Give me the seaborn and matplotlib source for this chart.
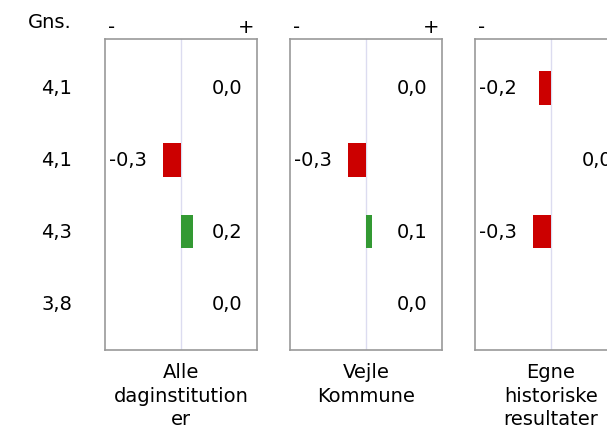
import numpy as np
import pandas as pd
import seaborn as sns
import matplotlib
matplotlib.use("Agg")
from matplotlib import pyplot as plt
from matplotlib import transforms

# data
gns = ["4,1", "4,1", "4,3", "3,8"]
rows = ["r1", "r2", "r3", "r4"]
groups = ["Alle\ndaginstitution\ner", "Vejle\nKommune", "Egne\nhistoriske\nresultater"]
alle = [0.0, -0.3, 0.2, 0.0]
vejle = [0.0, -0.3, 0.1, 0.0]
egne = [-0.2, 0.0, -0.3, np.nan]

RED = "#cc0000"
GREEN = "#339933"

sns.set_style("white")
plt.rcParams["font.family"] = ["DejaVu Sans"]
plt.rcParams["text.color"] = "black"

W, H = 607, 435
fig = plt.figure(figsize=(W / 100, H / 100), dpi=100)

panel_left = [105, 290, 475]
panel_w, top, bottom = 152, 40, 351
fs = 14


def fmt(v):
    return f"{v:.1f}".replace(".", ",")


for left, label, vals in zip(panel_left, groups, [alle, vejle, egne]):
    ax = fig.add_axes([left / W, 1 - bottom / H, panel_w / W, (bottom - top) / H])
    df = pd.DataFrame({"row": rows, "value": vals})
    df["sign"] = np.where(df["value"] < 0, "neg", "pos")
    sns.barplot(data=df.dropna(), x="value", y="row", hue="sign", order=rows,
                palette={"neg": RED, "pos": GREEN}, hue_order=["neg", "pos"],
                dodge=False, width=0.46, legend=False, ax=ax, orient="h",
                saturation=1, linewidth=0, edgecolor="none")
    ax.set_xlim(-1.267, 1.267)
    ax.set_ylim(3.64, -0.68)
    ax.axvline(0, color="#dcdcf0", lw=1, zorder=0)
    ax.set_xticks([])
    ax.set_yticks([])
    ax.set_xlabel("")
    ax.set_ylabel("")
    for s in ax.spines.values():
        s.set_color("#999999")
        s.set_linewidth(1.2)
    for i, v in enumerate(vals):
        if np.isnan(v):
            continue
        if v < 0:
            ax.text(-1.2, i, fmt(v), ha="left", va="center", fontsize=fs)
        else:
            ax.text(1.03, i, fmt(v), ha="right", va="center", fontsize=fs)
    ax.text(0.02, 1.01, "-", transform=ax.transAxes, ha="left", va="bottom", fontsize=fs)
    ax.text(0.98, 1.01, "+", transform=ax.transAxes, ha="right", va="bottom", fontsize=fs)
    ax.text(0.5, -0.04, label, transform=ax.transAxes, ha="center", va="top",
            fontsize=fs, linespacing=1.3)
    if left == panel_left[0]:
        tr = transforms.blended_transform_factory(fig.transFigure, ax.transData)
        for i, g in enumerate(gns):
            ax.text(72 / W, i, g, transform=tr, ha="right", va="center", fontsize=fs)
        fig.text(72 / W, 1 - 22 / H, "Gns.", ha="right", va="center", fontsize=fs)

fig.savefig("out.png", dpi=100)
